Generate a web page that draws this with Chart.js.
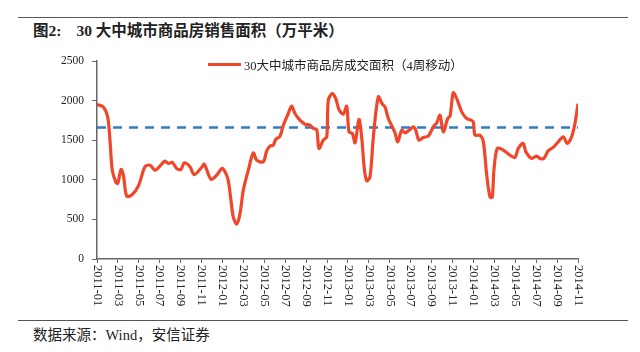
<!DOCTYPE html>
<html>
<head>
<meta charset="utf-8">
<script src="https://cdn.jsdelivr.net/npm/chart.js@4.4.0/dist/chart.umd.min.js"></script>
<style>
    body { margin: 0; width: 640px; height: 352px; background: #fff; position: relative; overflow: hidden;
           font-family: "Liberation Serif", "Noto Sans CJK SC", serif; color: #222; }
    .rule { position: absolute; left: 18px; width: 610px; height: 0; border-top: 1.5px solid #555; }
    #title { position: absolute; left: 33px; top: 18px; font-size: 15.5px; font-weight: bold; white-space: pre; }
    #title span { margin-left: 15px; }
    #source { position: absolute; left: 33px; top: 323px; font-size: 14.5px; }
    #chartBox { position: absolute; left: 0; top: 40px; width: 640px; height: 280px; }
    #legend { position: absolute; left: 208px; top: 55px; font-size: 12.5px; display: flex; align-items: center; }
    #legend span.swatch { display: inline-block; width: 33px; height: 3px; background: #f0472b; margin-right: 3px; }
</style>
</head>
<body>
<div class="rule" style="top:17px"></div>
<div id="title">图2:<span>30 大中城市商品房销售面积（万平米）</span></div>
<div id="chartBox"><canvas id="salesChart"></canvas></div>
<div id="legend"><span class="swatch"></span>30大中城市商品房成交面积（4周移动）</div>
<div class="rule" style="top:320px"></div>
<div id="source">数据来源：Wind，安信证券</div>
<script>
// x position in months counted from 2011-01
const weekPos = [
    0, 0.6, 1.02, 1.24, 1.46, 1.79, 1.98, 2.3, 2.52, 2.84, 3.32, 3.95, 4.59, 5.07, 5.55, 6.02,
    6.5, 6.82, 7.2, 7.62, 8.03, 8.35, 8.89, 9.3, 10.01, 10.26, 10.9, 11.45, 11.98, 12.5, 12.81,
    13.03, 13.36, 13.68, 13.99, 14.47, 14.95, 15.27, 15.9, 16.23, 16.54, 16.86, 17.09, 17.5,
    17.82, 18.29, 18.62, 18.93, 19.41, 19.89, 20.37, 20.68, 21.01, 21.23, 21.64, 21.97, 22.12,
    22.5, 22.83, 23.14, 23.55, 23.88, 24.1, 24.42, 24.68, 25.05, 25.31, 25.56, 25.79, 26.11,
    26.43, 26.9, 27.29, 27.54, 27.86, 28.24, 28.5, 28.76, 29.14, 29.46, 29.94, 30.25, 30.48,
    30.79, 31.21, 31.68, 32.16, 32.49, 32.8, 33.12, 33.54, 33.76, 34.07, 34.4, 34.88, 35.35,
    35.77, 35.99, 36.15, 36.63, 36.95, 37.27, 37.58, 37.8, 37.96, 38.28, 38.85, 39.49, 39.97,
    40.29, 40.76, 41.02, 41.57, 42.04, 42.36, 42.74, 43.15, 43.63, 44.11, 44.59, 44.97, 45.39,
    45.71, 46
];
const salesArea = [
    1950, 1920, 1795, 1500, 1122, 975, 954, 1131, 1059, 794, 807, 920, 1164, 1185, 1122, 1173,
    1236, 1206, 1219, 1144, 1131, 1214, 1164, 1065, 1156, 1198, 1005, 1059, 1144, 1018, 744,
    533, 441, 576, 870, 1122, 1340, 1248, 1227, 1366, 1425, 1437, 1509, 1551,
    1690, 1837, 1929, 1837, 1753, 1702, 1690, 1648, 1636, 1396, 1500, 1542, 2005,
    2089, 2026, 1887, 1828, 1929, 1605, 1585, 1467, 1762, 1542, 1144, 988, 1038,
    1542, 2047, 1955, 1920, 1774, 1668, 1595, 1479, 1627, 1593, 1636, 1668, 1627,
    1500, 1535, 1551, 1668, 1719, 1816, 1605, 1774, 1803, 2097, 2026, 1858, 1774,
    1753, 1731, 1564, 1564, 1479, 1059, 786, 780, 1122, 1396, 1375, 1311, 1282,
    1396, 1459, 1353, 1270, 1299, 1270, 1270, 1366, 1409, 1479, 1542, 1459, 1542,
    1711, 1960
];
const avgLevel = 1660;
const tickLabels = [
    '2011-01', '2011-03', '2011-05', '2011-07', '2011-09', '2011-11',
    '2012-01', '2012-03', '2012-05', '2012-07', '2012-09', '2012-11',
    '2013-01', '2013-03', '2013-05', '2013-07', '2013-09', '2013-11',
    '2014-01', '2014-03', '2014-05', '2014-07', '2014-09', '2014-11'
];
const yTicks = [0, 500, 1000, 1500, 2000, 2500];

// x labels read top to bottom, so draw them by hand
const xLabelPlugin = {
    id: 'xLabels',
    afterDraw(chart) {
        const scale = chart.scales.x;
        const ctx = chart.ctx;
        ctx.save();
        ctx.font = '12.5px "Liberation Serif"';
        ctx.fillStyle = '#222';
        ctx.textAlign = 'left';
        ctx.textBaseline = 'middle';
        scale.ticks.forEach((t, i) => {
            ctx.save();
            ctx.translate(scale.getPixelForValue(t.value), scale.top + 6);
            ctx.rotate(Math.PI / 2);
            ctx.fillText(tickLabels[i], 0, 0);
            ctx.restore();
        });
        ctx.restore();
    }
};

new Chart(document.getElementById('salesChart'), {
    type: 'line',
    data: {
        datasets: [{
            label: '30大中城市商品房成交面积（4周移动）',
            data: weekPos.map((x, i) => ({ x: x, y: salesArea[i] })),
            borderColor: '#f0472b',
            borderWidth: 3.2,
            pointRadius: 0,
            tension: 0.3,
            fill: false
        }, {
            label: 'avg',
            data: [{ x: 0, y: avgLevel }, { x: 46, y: avgLevel }],
            borderColor: '#2f7bc4',
            borderWidth: 2.5,
            borderDash: [9, 7],
            pointRadius: 0,
            fill: false
        }]
    },
    options: {
        responsive: true,
        maintainAspectRatio: false,
        animation: false,
        layout: { padding: { left: 0, right: 62, top: 21, bottom: 0 } },
        plugins: { legend: { display: false }, tooltip: { enabled: false } },
        scales: {
            x: {
                type: 'linear',
                min: 0,
                max: 46,
                afterBuildTicks: scale => { scale.ticks = tickLabels.map((l, i) => ({ value: i * 2 })); },
                afterFit: scale => { scale.height = 61; },
                ticks: { display: false },
                grid: { drawOnChartArea: false, drawTicks: true, tickLength: 4, color: '#666' },
                border: { color: '#666', width: 1.5 }
            },
            y: {
                min: 0,
                max: 2500,
                afterBuildTicks: scale => { scale.ticks = yTicks.map(v => ({ value: v })); },
                afterFit: scale => { scale.width = 97; },
                ticks: {
                    padding: 8, color: '#222', font: { family: 'Liberation Serif', size: 11.5 },
                    callback: v => String(v)
                },
                grid: { drawOnChartArea: false, drawTicks: true, tickLength: 5, color: '#666' },
                border: { color: '#666', width: 1.5 }
            }
        }
    },
    plugins: [xLabelPlugin]
});
</script>
</body>
</html>
